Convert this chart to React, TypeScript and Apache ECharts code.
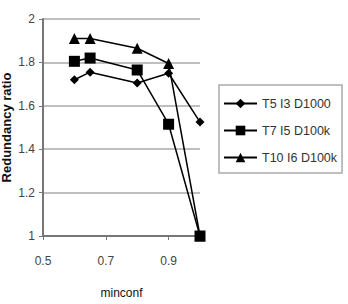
import React, { useEffect, useRef } from "react";
import * as echarts from "echarts";

const xValues = [0.6, 0.65, 0.8, 0.9, 1.0];
const seriesNames = ["T5 I3 D1000", "T7 I5 D100k", "T10 I6 D100k"];
const s1 = [1.72, 1.755, 1.705, 1.75, 1.525];
const s2 = [1.805, 1.82, 1.765, 1.515, 1.0];
const s3 = [1.91, 1.91, 1.865, 1.795, 1.0];
const symbols = ["diamond", "rect", "triangle"];
const symbolSizes = [9, 11, 11];

export default function App() {
  const ref = useRef<HTMLDivElement>(null);
  useEffect(() => {
    const chart = echarts.init(ref.current!, undefined, { renderer: "svg" });
    const data = [s1, s2, s3];
    chart.setOption({
      animation: false,
      backgroundColor: "#fff",
      textStyle: { fontFamily: "Liberation Sans, Arial, sans-serif" },
      grid: { left: 43, top: 19, right: 148, bottom: 68, show: false, outerBoundsMode: "none", containLabel: false },
      xAxis: {
        type: "value",
        min: 0.5,
        max: 1.0,
        interval: 0.2,
        name: "minconf",
        nameLocation: "middle",
        nameGap: 51,
        nameTextStyle: { fontSize: 12, color: "#111" },
        axisLine: { show: true, lineStyle: { color: "#777", width: 2 } },
        axisTick: { show: true, length: 4, lineStyle: { color: "#777" } },
        axisLabel: { color: "#444", fontSize: 12, margin: 19, showMaxLabel: false },
        splitLine: { show: false },
      },
      yAxis: {
        type: "value",
        min: 1,
        max: 2,
        interval: 0.2,
        name: "Redundancy ratio",
        nameLocation: "middle",
        nameGap: 30,
        nameTextStyle: { fontSize: 13, fontWeight: "bold", color: "#111" },
        axisLine: { show: true, lineStyle: { color: "#777", width: 2 } },
        axisTick: { show: true, length: 4, lineStyle: { color: "#777" } },
        axisLabel: {
          color: "#444",
          fontSize: 12,
          margin: 8,
          formatter: (v: number) => String(Math.round(v * 10) / 10),
        },
        splitLine: { show: true, lineStyle: { color: "#aaa", width: 1.5 } },
      },
      legend: {
        orient: "vertical",
        left: 219,
        top: 85,
        padding: [12, 5, 9, 4],
        itemGap: 14,
        itemWidth: 33,
        itemHeight: 12,
        borderColor: "#aaa",
        borderWidth: 1.5,
        textStyle: { fontSize: 12.5, color: "#333" },
        data: seriesNames,
      },
      series: seriesNames.map((name, i) => ({
        name,
        type: "line",
        data: xValues.map((x, j) => [x, data[i][j]]),
        symbol: symbols[i],
        symbolSize: symbolSizes[i],
        lineStyle: { color: "#000", width: 1.5 },
        itemStyle: { color: "#000" },
        clip: false,
      })),
    });
    return () => chart.dispose();
  }, []);
  return <div ref={ref} style={{ width: 348, height: 304, position: "absolute", left: 0, top: 0 }} />;
}
